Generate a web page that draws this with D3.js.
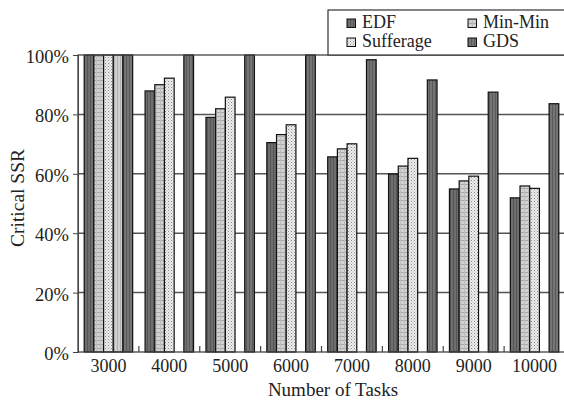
<!DOCTYPE html>
<html>
<head>
<meta charset="utf-8">
<script src="https://cdn.jsdelivr.net/npm/d3@7"></script>
<style>
  body { margin: 0; background: #fff; }
  text { font-family: "Liberation Serif", "DejaVu Serif", serif; fill: #222; }
</style>
</head>
<body>
<svg id="chart"></svg>
<script>
var width = 564;
var height = 403;

// data
var tasks = ["3000", "4000", "5000", "6000", "7000", "8000", "9000", "10000"];
var edf       = [100, 87.9, 79.0, 70.5, 65.7, 59.9, 54.9, 51.9];
var minMin    = [100, 90.0, 81.9, 73.2, 68.4, 62.6, 57.6, 55.9];
var sufferage = [100, 92.2, 85.8, 76.5, 70.1, 65.2, 59.2, 55.1];
var extra     = [100, 0, 0, 0, 0, 0, 0, 0];   // unlabeled light bar, only at 3000
var gds       = [100, 100, 100, 100, 98.4, 91.6, 87.5, 83.6];
var yTicks = [0, 20, 40, 60, 80, 100];

var series = [
  {key: "EDF", values: edf, pat: "p-edf", legend: true},
  {key: "Min-Min", values: minMin, pat: "p-min", legend: true},
  {key: "Sufferage", values: sufferage, pat: "p-suf", legend: true},
  {key: "extra", values: extra, pat: "p-extra", legend: false},
  {key: "GDS", values: gds, pat: "p-gds", legend: true}
];

var svg = d3.select("#chart")
  .attr("width", width)
  .attr("height", height);

// fill patterns
var defs = svg.append("defs");

var p = defs.append("pattern").attr("id", "p-edf").attr("patternUnits", "userSpaceOnUse")
  .attr("width", 3).attr("height", 3);
p.append("rect").attr("width", 3).attr("height", 3).attr("fill", "#6e6e6e");
p.append("rect").attr("width", 1).attr("height", 3).attr("fill", "#555");

p = defs.append("pattern").attr("id", "p-gds").attr("patternUnits", "userSpaceOnUse")
  .attr("width", 3).attr("height", 3);
p.append("rect").attr("width", 3).attr("height", 3).attr("fill", "#747474");
p.append("rect").attr("width", 1).attr("height", 3).attr("fill", "#5a5a5a");

p = defs.append("pattern").attr("id", "p-min").attr("patternUnits", "userSpaceOnUse")
  .attr("width", 4).attr("height", 4);
p.append("rect").attr("width", 4).attr("height", 4).attr("fill", "#d2d2d2");
p.append("rect").attr("width", 4).attr("height", 1).attr("fill", "#a8a8a8");
p.append("rect").attr("x", 0).attr("width", 1).attr("height", 4).attr("fill", "#bdbdbd");

p = defs.append("pattern").attr("id", "p-suf").attr("patternUnits", "userSpaceOnUse")
  .attr("width", 3).attr("height", 3);
p.append("rect").attr("width", 3).attr("height", 3).attr("fill", "#eeeeee");
p.append("rect").attr("width", 1).attr("height", 1).attr("fill", "#8a8a8a");
p.append("rect").attr("x", 1.5).attr("y", 1.5).attr("width", 1).attr("height", 1).attr("fill", "#a8a8a8");

p = defs.append("pattern").attr("id", "p-extra").attr("patternUnits", "userSpaceOnUse")
  .attr("width", 3).attr("height", 3);
p.append("rect").attr("width", 3).attr("height", 3).attr("fill", "#d0d0d0");
p.append("rect").attr("width", 1).attr("height", 3).attr("fill", "#b0b0b0");

var plotL = 78, plotR = 565, plotT = 55, plotB = 352;

var x0 = d3.scaleBand().domain(tasks).range([plotL, plotR]);
var x1 = d3.scaleBand().domain(series.map(d => d.key))
  .range([6.2, x0.bandwidth() - 6.2]);
var y = d3.scaleLinear().domain([0, 100]).range([plotB, plotT]);

// gridlines
svg.append("g")
  .selectAll("line")
  .data(yTicks.filter(t => t > 0 && t < 100))
  .enter()
  .append("line")
  .attr("x1", plotL).attr("x2", plotR)
  .attr("y1", d => y(d)).attr("y2", d => y(d))
  .attr("stroke", "#555").attr("stroke-width", 1.5);

// bars
var groups = svg.append("g")
  .selectAll("g")
  .data(series)
  .enter()
  .append("g");

groups.selectAll("rect")
  .data(s => s.values.map((v, i) => ({key: s.key, pat: s.pat, task: tasks[i], v: v})).filter(d => d.v > 0))
  .enter()
  .append("rect")
  .attr("x", d => x0(d.task) + x1(d.key))
  .attr("y", d => y(d.v))
  .attr("width", x1.bandwidth())
  .attr("height", d => y(0) - y(d.v))
  .attr("fill", d => "url(#" + d.pat + ")")
  .attr("stroke", "#111")
  .attr("stroke-width", 1.2);

// frame
svg.append("rect")
  .attr("x", plotL).attr("y", plotT)
  .attr("width", plotR - plotL).attr("height", plotB - plotT)
  .attr("fill", "none").attr("stroke", "#444").attr("stroke-width", 1.3);

// y axis
var yAxis = d3.axisLeft(y).tickValues(yTicks).tickFormat(d => d + "%").tickSize(5).tickPadding(4);
var gy = svg.append("g").attr("transform", "translate(" + plotL + ",0)").call(yAxis);
gy.select(".domain").attr("stroke", "#444");
gy.selectAll(".tick line").attr("stroke", "#444");
gy.selectAll("text")
  .attr("font-family", "Liberation Serif, serif")
  .attr("font-size", 18.5)
  .attr("fill", "#222")
  .attr("dy", "0.4em");

// x axis: labels at group centers, small upward ticks between groups
var xAxis = d3.axisBottom(x0).tickSize(0).tickPadding(7);
var gx = svg.append("g").attr("transform", "translate(0," + plotB + ")").call(xAxis);
gx.select(".domain").remove();
gx.selectAll("text")
  .attr("font-family", "Liberation Serif, serif")
  .attr("font-size", 18)
  .attr("fill", "#222");

svg.append("g")
  .selectAll("line")
  .data(tasks.slice(1))
  .enter()
  .append("line")
  .attr("x1", d => x0(d)).attr("x2", d => x0(d))
  .attr("y1", plotB).attr("y2", plotB - 6)
  .attr("stroke", "#444").attr("stroke-width", 1.2);

// axis titles
svg.append("text")
  .attr("x", 333)
  .attr("y", 396)
  .attr("text-anchor", "middle")
  .attr("font-size", 19)
  .text("Number of Tasks");

svg.append("text")
  .attr("transform", "translate(24,198) rotate(-90)")
  .attr("text-anchor", "middle")
  .attr("font-size", 19.5)
  .text("Critical SSR");

// legend
var lg = svg.append("g");
lg.append("rect")
  .attr("x", 328).attr("y", 10)
  .attr("width", 245).attr("height", 45)
  .attr("fill", "#fff").attr("stroke", "#333").attr("stroke-width", 1.2);

var legendItems = series.filter(d => d.legend);
var li = lg.selectAll("g.item")
  .data(legendItems)
  .enter()
  .append("g")
  .attr("class", "item")
  .attr("transform", (d, i) => "translate(" + (347 + (i % 2) * 121) + "," + (19 + Math.floor(i / 2) * 19) + ")");

li.append("rect")
  .attr("width", 8.5).attr("height", 8.5)
  .attr("fill", d => "url(#" + d.pat + ")")
  .attr("stroke", "#111").attr("stroke-width", 1);

li.append("text")
  .attr("x", 15).attr("y", 9)
  .attr("font-size", 18)
  .text(d => d.key);
</script>
</body>
</html>
